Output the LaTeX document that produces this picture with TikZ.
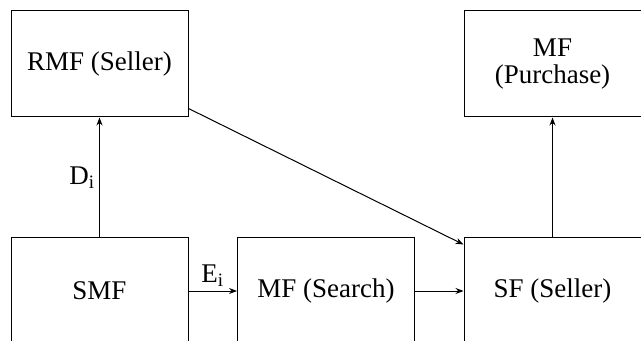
\documentclass[tikz,border=0pt]{standalone}
\usepackage{fontspec}
\setmainfont{LiberationSerif-Regular.ttf}
\usetikzlibrary{arrows.meta}
\begin{document}
\begin{tikzpicture}[x=0.5pt,y=-0.5pt,line width=0.5pt,
  box/.style={draw,minimum width=88.5pt,minimum height=53pt,inner sep=0pt,align=center,font=\fontsize{13.5}{13.5}\selectfont},
  lbl/.style={font=\fontsize{13.5}{13.5}\selectfont,inner sep=2pt},
  >={Stealth[length=4pt,width=3pt]}]
\useasboundingbox (0,0) rectangle (641,341);
\node[box] (rmf) at (99.5,64) {RMF (Seller)};
\node[box] (mfp) at (552.5,64) {MF\\(Purchase)};
\node[box] (smf) at (99.5,291) {SMF};
\node[box] (mfs) at (326,291) {MF (Search)};
\node[box] (sf) at (552.5,291) {SF (Seller)};
\draw[->] (smf) -- node[lbl,left] {D\textsubscript{i}} (rmf);
\draw[->] (smf) -- node[lbl,above] {E\textsubscript{i}} (mfs);
\draw[->] (mfs) -- (sf);
\draw[->] (sf) -- (mfp);
\draw[->] ([yshift=4.5pt]rmf.south east) -- ([yshift=-3.5pt]sf.north west);
\end{tikzpicture}
\end{document}
